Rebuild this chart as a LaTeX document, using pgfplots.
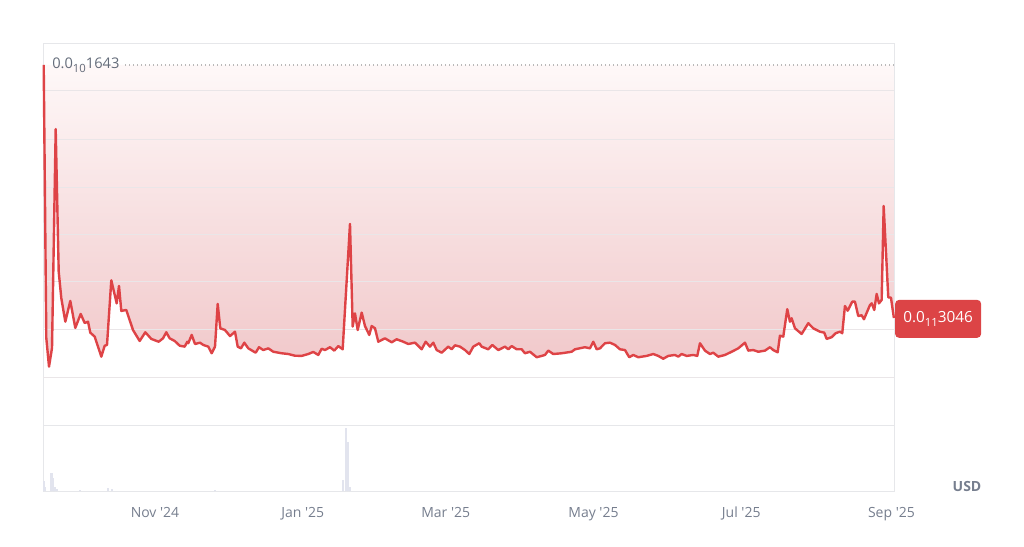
\documentclass[border=0pt]{standalone}
\usepackage{pgfplots}
\pgfplotsset{compat=1.18}
\usepackage{pgfplotstable}
\usepackage{fontspec}
\setmainfont{Open Sans}
\definecolor{linered}{RGB}{222,67,70}
\definecolor{tagred}{RGB}{220,68,70}
\definecolor{pinktop}{RGB}{254,248,248}
\definecolor{pinkbot}{RGB}{241,200,202}
\definecolor{gridc}{RGB}{234,230,232}
\definecolor{framec}{RGB}{230,231,234}
\definecolor{labgray}{RGB}{118,126,142}
\definecolor{maxgray}{RGB}{100,108,122}
\definecolor{volc}{RGB}{226,228,238}
\newcommand{\sub}[1]{\raisebox{-0.5ex}{\fontsize{8.5}{9}\selectfont #1}}

\pgfplotstableread{
d v
-45.94 16.43
-44.87 1.99
-43.75 0.47
-42.51 1.46
-40.99 13.04
-39.75 5.50
-38.68 4.10
-37.02 2.85
-34.96 3.95
-32.90 2.52
-30.67 3.26
-29.02 2.78
-27.65 2.85
-26.71 2.27
-24.89 2.06
-22.16 1.00
-20.76 1.58
-19.81 1.62
-18.04 5.04
-15.81 3.82
-14.86 4.74
-13.91 3.42
-11.85 3.47
-9.08 2.41
-6.32 1.83
-4.00 2.29
-1.53 1.94
1.53 1.79
3.30 1.97
4.66 2.29
6.07 1.97
8.13 1.83
10.20 1.58
12.26 1.53
13.33 1.79
13.74 1.71
15.15 2.15
16.51 1.67
18.57 1.74
19.94 1.62
22.00 1.53
23.40 1.18
24.77 1.53
25.88 3.79
26.95 2.50
28.89 2.41
30.96 2.09
33.02 2.32
34.14 1.53
35.50 1.44
36.86 1.74
38.51 1.44
41.56 1.21
42.93 1.50
44.70 1.35
46.77 1.44
48.83 1.26
52.30 1.18
55.02 1.14
57.79 1.05
60.55 1.04
63.28 1.14
65.34 1.25
67.40 1.09
68.81 1.42
70.17 1.35
72.23 1.50
74.01 1.32
75.66 1.56
77.47 1.39
80.49 8.02
81.60 2.59
82.55 3.29
83.67 2.41
85.32 3.33
86.68 2.62
88.45 2.15
89.45 2.62
90.81 2.50
92.17 1.79
94.93 1.97
97.70 1.76
99.77 1.92
102.49 1.79
104.55 1.67
107.32 1.74
110.08 1.39
111.73 1.79
113.51 1.53
114.87 1.74
116.27 1.35
118.34 1.21
121.06 1.53
122.47 1.39
123.83 1.60
125.89 1.53
127.96 1.35
129.73 1.14
131.38 1.53
133.86 1.71
134.85 1.53
137.57 1.39
139.22 1.62
141.70 1.35
144.47 1.53
145.83 1.39
147.23 1.56
149.30 1.39
151.36 1.39
152.72 1.18
154.79 1.26
157.55 0.97
159.61 1.04
160.98 1.09
162.34 1.32
164.40 1.14
167.87 1.18
171.99 1.26
173.36 1.39
177.49 1.50
179.55 1.44
180.91 1.79
182.32 1.39
183.68 1.44
185.74 1.71
187.81 1.74
189.87 1.62
191.93 1.39
194.00 1.35
195.77 0.97
197.42 1.09
199.49 0.97
202.95 1.04
205.68 1.14
207.74 1.04
209.81 0.89
211.87 1.04
214.64 1.09
216.00 1.00
217.40 1.14
219.47 1.04
222.19 1.09
223.84 1.04
224.95 1.71
227.02 1.32
229.08 1.14
230.44 1.21
232.51 1.00
235.27 1.09
238.04 1.26
240.76 1.44
243.53 1.74
244.89 1.32
246.95 1.35
249.02 1.26
251.78 1.32
253.85 1.50
255.21 1.35
257.03 1.23
257.97 2.11
259.34 2.06
260.99 3.51
262.10 2.85
262.80 3.03
264.17 2.50
266.93 2.20
269.66 2.77
271.72 2.50
274.49 2.32
276.26 2.27
277.25 1.94
279.32 2.03
280.97 2.24
282.74 2.32
283.69 2.24
284.80 3.68
285.92 3.43
287.82 3.91
288.93 3.91
290.29 3.15
291.70 3.19
292.65 2.98
295.13 3.73
295.83 3.82
296.90 3.47
297.89 4.32
298.84 3.82
299.96 4.00
300.78 8.97
302.68 4.14
303.80 4.12
305.00 3.046
}\pricedata

\pgfplotstableread{
d h
-45.9 10.3
-45.2 4
-43.0 18.3
-42.6 18.0
-41.9 13.0
-41.2 4.0
-40.5 2.0
-31.0 1.0
-19.4 3.3
-17.7 2.0
24.8 1.0
77.7 11.0
78.7 62.7
79.5 49.3
80.5 4.0
}\voldata

\begin{document}
\begin{tikzpicture}
\path[use as bounding box] (0,0) rectangle (768pt,409.5pt);

\begin{axis}[
  at={(32.25pt,90.75pt)}, anchor=south west,
  scale only axis, width=638.25pt, height=286.5pt,
  xmin=-46.23, xmax=305.05, ymin=-2.615, ymax=17.593,
  xtick=\empty, ytick=\empty,
  axis line style={draw=framec, line width=0.7pt},
  major tick length=0pt,
  clip=false,
]
\addplot[top color=pinktop, bottom color=pinkbot, draw=none, forget plot] table[x=d, y=v] {\pricedata} -- (axis cs:305.0,16.43) -- (axis cs:-45.94,16.43) -- cycle;
\pgfplotsinvokeforeach{-0.075,2.464,5.003,7.489,9.976,12.515,15.107}{
  \draw[draw=gridc, line width=0.7pt] (axis cs:-46.23,#1) -- (axis cs:305.05,#1);
}
\addplot[draw=linered, line width=1.8pt, line join=round, mark=none] table[x=d, y=v] {\pricedata};
\draw[draw=gray!55, line width=0.8pt, dash pattern=on 0.8pt off 2.2pt] (axis cs:-12.38,16.43) -- (axis cs:305.05,16.43);
\node[anchor=west, inner sep=0pt, text=maxgray, font=\fontsize{11}{13}\selectfont] at (axis cs:-46.23,16.43) [xshift=6.75pt] {0.0\sub{10}1643};
\node[anchor=west, fill=tagred, text=white, rounded corners=3pt, minimum width=64.5pt, minimum height=28.5pt, inner sep=0pt, font=\fontsize{11.5}{13}\selectfont] at (axis cs:305.4,3.0) {0.0\sub{11}3046};
\end{axis}

\begin{axis}[
  at={(32.25pt,41.25pt)}, anchor=south west,
  scale only axis, width=638.25pt, height=49.5pt,
  xmin=-46.23, xmax=305.05, ymin=0, ymax=66,
  ytick=\empty,
  xtick={0,61,120,181,242,304},
  xticklabels={Nov \textquotesingle 24, Jan \textquotesingle 25, Mar \textquotesingle 25, May \textquotesingle 25, Jul \textquotesingle 25, Sep \textquotesingle 25},
  xticklabel style={text=labgray, font=\fontsize{10.5}{12}\selectfont, yshift=-8.5pt},
  axis line style={draw=framec, line width=0.7pt},
  major tick length=0pt,
]
\addplot[ycomb, draw=volc, line width=1.4pt, mark=none] table[x=d, y=h] {\voldata};
\end{axis}

\node[text=labgray, font=\fontsize{10.5}{13}\selectfont\bfseries] at (725.25pt,44.25pt) {USD};
\end{tikzpicture}
\end{document}
